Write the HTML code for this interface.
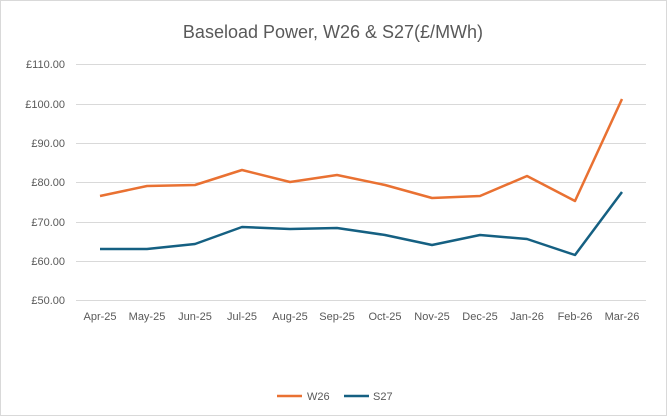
<!DOCTYPE html>
<html><head><style>
body{margin:0;background:#fff;}
svg{display:block;font-family:"Liberation Sans",sans-serif;}
</style></head><body>
<svg width="667" height="416" viewBox="0 0 667 416" xmlns="http://www.w3.org/2000/svg">
<rect x="0.5" y="0.5" width="666" height="415" fill="#fff" stroke="#D9D9D9"/>
<text x="333" y="38" text-anchor="middle" font-size="18" fill="#595959">Baseload Power, W26 &amp; S27(£/MWh)</text>
<g stroke="#D9D9D9" stroke-width="1">
<line x1="76" x2="646" y1="64.5" y2="64.5"/>
<line x1="76" x2="646" y1="104.5" y2="104.5"/>
<line x1="76" x2="646" y1="143.5" y2="143.5"/>
<line x1="76" x2="646" y1="182.5" y2="182.5"/>
<line x1="76" x2="646" y1="222.5" y2="222.5"/>
<line x1="76" x2="646" y1="261.5" y2="261.5"/>
<line x1="76" x2="646" y1="300.5" y2="300.5"/>
</g>
<g font-size="11" fill="#595959" text-anchor="end">
<text x="65" y="68">£110.00</text>
<text x="65" y="108">£100.00</text>
<text x="65" y="147">£90.00</text>
<text x="65" y="186">£80.00</text>
<text x="65" y="226">£70.00</text>
<text x="65" y="265">£60.00</text>
<text x="65" y="304">£50.00</text>
</g>
<g font-size="11" fill="#595959" text-anchor="middle">
<text x="100" y="320">Apr-25</text><text x="147" y="320">May-25</text><text x="195" y="320">Jun-25</text>
<text x="242" y="320">Jul-25</text><text x="290" y="320">Aug-25</text><text x="337" y="320">Sep-25</text>
<text x="385" y="320">Oct-25</text><text x="432" y="320">Nov-25</text><text x="480" y="320">Dec-25</text>
<text x="527" y="320">Jan-26</text><text x="575" y="320">Feb-26</text><text x="622" y="320">Mar-26</text>
</g>
<polyline fill="none" stroke="#E97132" stroke-width="2.5" stroke-linejoin="round" points="100,196 147,186 195,185 242,170 290,182 337,175 385,185 432,198 480,196 527,176 575,201 622,99"/>
<polyline fill="none" stroke="#156082" stroke-width="2.5" stroke-linejoin="round" points="100,249 147,249 195,244 242,227 290,229 337,228 385,235 432,245 480,235 527,239 575,255 622,192"/>
<line x1="277" x2="302" y1="396" y2="396" stroke="#E97132" stroke-width="2.5"/>
<text x="307" y="400" font-size="11" fill="#595959">W26</text>
<line x1="344" x2="369" y1="396" y2="396" stroke="#156082" stroke-width="2.5"/>
<text x="373" y="400" font-size="11" fill="#595959">S27</text>
</svg>
</body></html>
